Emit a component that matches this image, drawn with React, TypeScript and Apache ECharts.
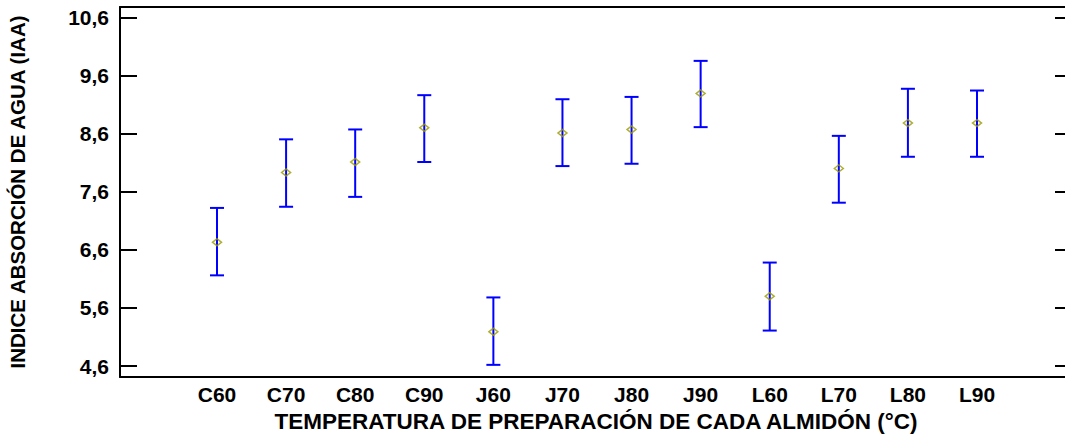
import React, { useEffect, useRef } from "react";
import * as echarts from "echarts";

const categories = ["C60", "C70", "C80", "C90", "J60", "J70", "J80", "J90", "L60", "L70", "L80", "L90"];
const means = [6.73, 7.93, 8.11, 8.70, 5.19, 8.61, 8.67, 9.29, 5.80, 8.00, 8.78, 8.78];
const lowers = [6.16, 7.34, 7.51, 8.11, 4.62, 8.04, 8.08, 8.71, 5.21, 7.41, 8.20, 8.20];
const uppers = [7.32, 8.50, 8.67, 9.26, 5.78, 9.19, 9.23, 9.85, 6.38, 8.56, 9.37, 9.34];
const yTicks = [4.6, 5.6, 6.6, 7.6, 8.6, 9.6, 10.6];
const xTicks = categories.map((_, i) => i);

const FONT = "'Liberation Sans', Arial, sans-serif";

export default function App() {
  const ref = useRef<HTMLDivElement>(null);
  useEffect(() => {
    if (!ref.current) return;
    const chart = echarts.init(ref.current, null, { renderer: "svg" });
    const errData = categories.map((_, i) => [i, lowers[i], uppers[i]]);
    const ptData = categories.map((_, i) => [i, means[i]]);
    const axisLine = { show: true, lineStyle: { color: "#000", width: 2 } };
    chart.setOption({
      animation: false,
      backgroundColor: "#fff",
      grid: { left: 120, right: -7, top: 7, bottom: 60, containLabel: false, outerBoundsMode: "none" },
      xAxis: [
        {
          type: "value",
          position: "bottom",
          min: -1.404,
          max: 12.375,
          axisLine: { ...axisLine, onZero: false },
          axisTick: { show: false },
          splitLine: { show: false },
          axisLabel: {
            customValues: xTicks,
            formatter: (v: number) => categories[Math.round(v)] ?? "",
            fontFamily: FONT,
            fontWeight: "bold",
            fontSize: 21,
            color: "#000",
            margin: 7,
          },
          name: "TEMPERATURA DE PREPARACIÓN DE CADA ALMIDÓN (°C)",
          nameLocation: "middle",
          nameGap: 30,
          nameTextStyle: { fontFamily: FONT, fontWeight: "bold", fontSize: 22.5, color: "#000" },
        },
        {
          type: "value",
          position: "top",
          min: -1.404,
          max: 12.375,
          axisLine: { ...axisLine, onZero: false },
          axisTick: { show: false },
          axisLabel: { show: false },
          splitLine: { show: false },
        },
      ],
      yAxis: [
        {
          type: "value",
          position: "left",
          min: 4.411,
          max: 10.777,
          axisLine: { ...axisLine, onZero: false },
          axisTick: { show: true, inside: true, length: 17, customValues: yTicks, lineStyle: { color: "#000", width: 2 } },
          splitLine: { show: false },
          axisLabel: {
            customValues: yTicks,
            formatter: (v: number) => v.toFixed(1).replace(".", ","),
            fontFamily: FONT,
            fontWeight: "bold",
            fontSize: 21,
            color: "#000",
            margin: 11,
          },
          name: "INDICE ABSORCIÓN DE AGUA (IAA)",
          nameLocation: "middle",
          nameGap: 92,
          nameRotate: 90,
          nameTextStyle: { fontFamily: FONT, fontWeight: "bold", fontSize: 20.5, color: "#000" },
        },
        {
          type: "value",
          position: "right",
          min: 4.411,
          max: 10.777,
          axisLine: { ...axisLine, onZero: false },
          axisTick: { show: true, inside: true, length: 17, customValues: yTicks, lineStyle: { color: "#000", width: 2 } },
          axisLabel: { show: false },
          splitLine: { show: false },
        },
      ],
      series: [
        {
          type: "custom",
          xAxisIndex: 0,
          yAxisIndex: 0,
          data: errData,
          renderItem: (params: any, api: any) => {
            const x = api.value(0);
            const lo = api.coord([x, api.value(1)]);
            const hi = api.coord([x, api.value(2)]);
            const hw = 7;
            const style = { stroke: "#0000ff", lineWidth: 2 };
            return {
              type: "group",
              children: [
                { type: "line", shape: { x1: lo[0], y1: lo[1], x2: hi[0], y2: hi[1] }, style },
                { type: "line", shape: { x1: hi[0] - hw, y1: hi[1], x2: hi[0] + hw, y2: hi[1] }, style },
                { type: "line", shape: { x1: lo[0] - hw, y1: lo[1], x2: lo[0] + hw, y2: lo[1] }, style },
              ],
            };
          },
          z: 2,
        },
        {
          type: "scatter",
          xAxisIndex: 0,
          yAxisIndex: 0,
          data: ptData,
          symbol: "diamond",
          symbolSize: [9, 7],
          itemStyle: { color: "rgba(255,255,255,0)", borderColor: "#9a9a00", borderWidth: 1.5 },
          z: 3,
        },
      ],
    });
    return () => chart.dispose();
  }, []);
  return <div ref={ref} style={{ position: "fixed", left: 0, top: 0, width: 1065, height: 437 }} />;
}
